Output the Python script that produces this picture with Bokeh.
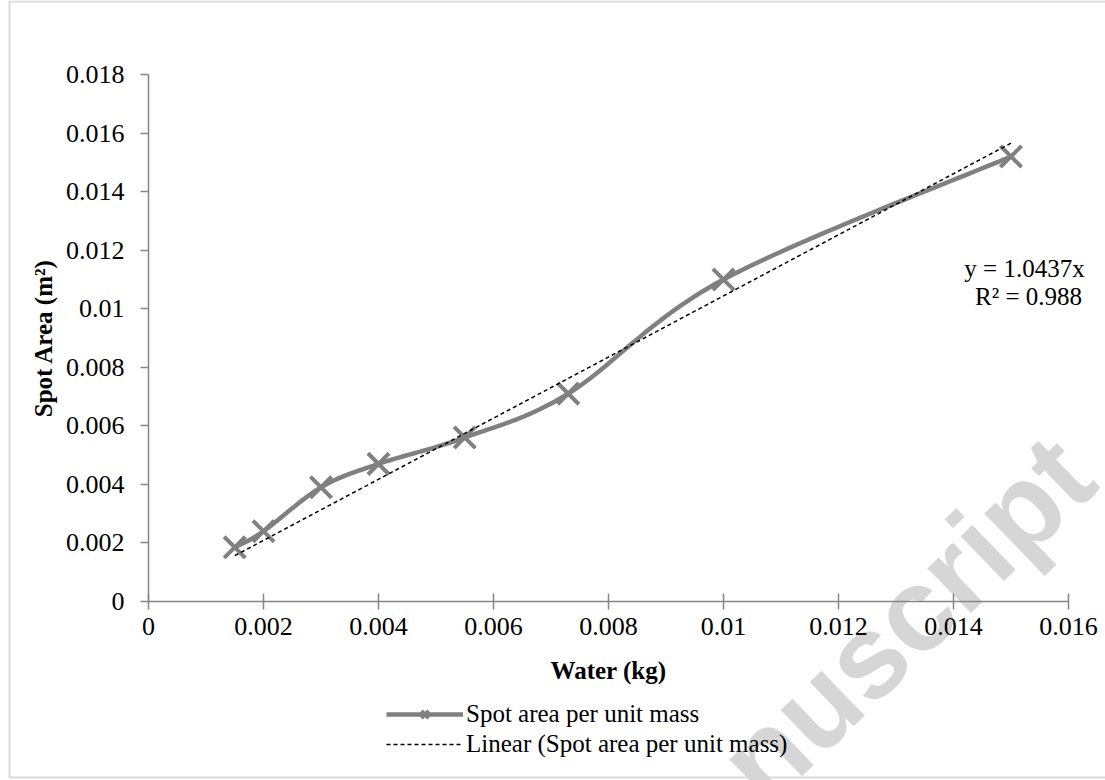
import numpy as np
from bokeh.plotting import figure
from bokeh.models import (Range1d, FixedTicker, NumeralTickFormatter, Legend, LegendItem,
                          Label, BoxAnnotation)
from bokeh.embed import file_html
from bokeh.resources import INLINE

# ---- data ----
water_kg = [0.0015, 0.002, 0.003, 0.004, 0.0055, 0.0073, 0.01, 0.015]
spot_area = [0.00185, 0.0024, 0.0039, 0.0047, 0.0056, 0.0071, 0.011, 0.0152]
trend_slope = 1.0437
r_squared = 0.988
x_ticks = [0, 0.002, 0.004, 0.006, 0.008, 0.01, 0.012, 0.014, 0.016]
y_ticks = [0, 0.002, 0.004, 0.006, 0.008, 0.01, 0.012, 0.014, 0.016, 0.018]
series_name = "Spot area per unit mass"
trend_name = "Linear (Spot area per unit mass)"
x_title = "Water (kg)"
y_title = "Spot Area (m\u00b2)"

# ---- layout (pixels) ----
W, H = 1105, 780
PL, PR, PT, PB = 148, 1068, 74, 601      # plot area edges on the canvas
X0, X1 = x_ticks[0], x_ticks[-1]
Y0, Y1 = y_ticks[0], y_ticks[-1]
kx = (X1 - X0) / (PR - PL)
ky = (Y1 - Y0) / (PB - PT)

AXIS = "#868686"
SERIES = "#808080"
FONT = "Liberation Serif"


def sx(cx):  # canvas x -> screen units of the frame
    return cx


def sy(cy):  # canvas y (from top) -> screen units of the frame (from bottom)
    return H - cy


def smooth(xs, ys, n=30):
    """Excel-like smoothed line (cubic Bezier, Catmull-Rom control points)."""
    P = np.column_stack([xs, ys]).astype(float)
    out = [P[0]]
    for i in range(len(P) - 1):
        p0 = P[i - 1] if i > 0 else P[i]
        p1 = P[i]
        p2 = P[i + 1]
        p3 = P[i + 2] if i + 2 < len(P) else P[i + 1]
        c1 = p1 + (p2 - p0) / 6.0
        c2 = p2 - (p3 - p1) / 6.0
        t = np.linspace(0, 1, n)[1:, None]
        seg = ((1 - t) ** 3) * p1 + 3 * ((1 - t) ** 2) * t * c1 + 3 * (1 - t) * t ** 2 * c2 + t ** 3 * p2
        out.extend(seg)
    out = np.array(out)
    return out[:, 0], out[:, 1]


p = figure(width=W, height=H, output_backend="svg", toolbar_location=None,
           x_range=Range1d(X0 - PL * kx, X1 + (W - PR) * kx),
           y_range=Range1d(Y0 - (H - PB) * ky, Y1 + PT * ky),
           min_border_left=0, min_border_right=0, min_border_top=0, min_border_bottom=0)
p.outline_line_color = None
p.xgrid.visible = False
p.ygrid.visible = False
p.background_fill_color = "white"
p.border_fill_color = "white"

# chart border
p.add_layout(BoxAnnotation(left=sx(9), right=sx(W + 20), top=sy(1), bottom=sy(777),
                           left_units="screen", right_units="screen", top_units="screen",
                           bottom_units="screen", fill_color=None, fill_alpha=0,
                           line_color=AXIS, line_width=2, level="underlay"))

# watermark
p.add_layout(Label(x=sx(738), y=sy(780), x_units="screen", y_units="screen", text="nuscript",
                   angle=44, angle_units="deg", text_font="Liberation Sans", text_font_style="bold",
                   text_font_size="118px", text_color="#d6d6d6", text_baseline="alphabetic",
                   text_align="left", level="underlay"))

cx, cy = smooth(water_kg, spot_area)
line_r = p.line(cx, cy, line_color=SERIES, line_width=4.5)
mark_r = p.scatter(water_kg, spot_area, marker="x", size=30, line_color=SERIES, line_width=4)

tx = [min(water_kg), max(water_kg)]
ty = [trend_slope * v for v in tx]
trend_r = p.line(tx, ty, line_color="black", line_width=1.5, line_dash="4 3")

# axes (fixed at the origin, limited to the plot area)
for ax in (p.xaxis[0], p.yaxis[0]):
    ax.fixed_location = 0
    ax.axis_line_color = AXIS
    ax.axis_line_width = 1.5
    ax.major_tick_line_color = AXIS
    ax.major_tick_line_width = 1.5
    ax.minor_tick_line_color = None
    ax.major_label_text_font = FONT
    ax.major_label_text_font_size = "26px"
    ax.major_label_text_color = "black"
    ax.axis_label_text_font = FONT
    ax.axis_label_text_font_size = "25px"
    ax.axis_label_text_font_style = "bold"
    ax.axis_label_text_color = "black"
    ax.formatter = NumeralTickFormatter(format="0.[000]")

p.xaxis[0].bounds = (X0, X1)
p.yaxis[0].bounds = (Y0, Y1)
p.xaxis[0].ticker = FixedTicker(ticks=x_ticks)
p.yaxis[0].ticker = FixedTicker(ticks=y_ticks)
p.xaxis[0].major_tick_in = 8
p.xaxis[0].major_tick_out = 8
p.yaxis[0].major_tick_in = 0
p.yaxis[0].major_tick_out = 8
p.xaxis[0].major_label_standoff = 8
p.yaxis[0].major_label_standoff = 16
p.xaxis[0].axis_label = x_title
p.yaxis[0].axis_label = y_title
p.xaxis[0].axis_label_standoff = 19
p.yaxis[0].axis_label_standoff = 6

# trendline equation
p.add_layout(Label(x=sx(1024), y=sy(268), x_units="screen", y_units="screen", text=f"y = {trend_slope}x",
                   text_font=FONT, text_font_size="25px", text_align="center", text_baseline="middle",
                   text_color="black"))
p.add_layout(Label(x=sx(1028), y=sy(296), x_units="screen", y_units="screen", text=f"R\u00b2 = {r_squared}",
                   text_font=FONT, text_font_size="25px", text_align="center", text_baseline="middle",
                   text_color="black"))

legend = Legend(items=[LegendItem(label=series_name, renderers=[line_r, mark_r]),
                       LegendItem(label=trend_name, renderers=[trend_r])],
                location=(sx(386), sy(758)), orientation="vertical",
                label_text_font=FONT, label_text_font_size="25px", label_text_color="black",
                glyph_width=77, glyph_height=26, label_height=26, label_standoff=3, spacing=2,
                padding=4, margin=0, border_line_color=None, background_fill_alpha=0)
p.add_layout(legend)

open("out.html", "w").write(file_html(p, INLINE))
